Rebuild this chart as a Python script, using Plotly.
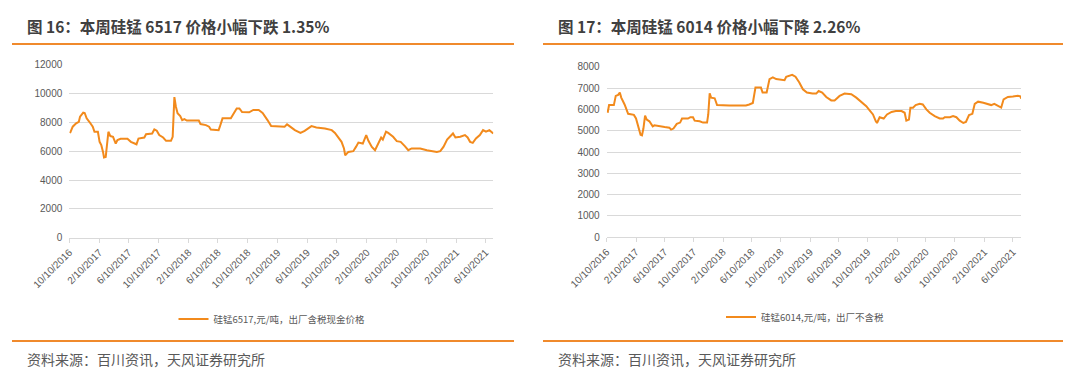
import plotly.graph_objects as go

# ---------------- data ----------------
dates_6517 = [
    "2016-10-13", "2016-10-24", "2016-11-07", "2016-11-18", "2016-11-23", "2016-12-06", "2016-12-12",
    "2016-12-20", "2016-12-31", "2017-01-14", "2017-01-21", "2017-02-04", "2017-02-11", "2017-02-18",
    "2017-02-25", "2017-03-01", "2017-03-08", "2017-03-13", "2017-03-19", "2017-03-27", "2017-04-07",
    "2017-04-18", "2017-04-25", "2017-05-08", "2017-06-05", "2017-06-19", "2017-07-02", "2017-07-12",
    "2017-07-20", "2017-08-13", "2017-08-20", "2017-09-14", "2017-09-23", "2017-10-03", "2017-10-13",
    "2017-10-29", "2017-11-10", "2017-11-30", "2017-12-07", "2017-12-10", "2017-12-14", "2017-12-20",
    "2017-12-27", "2018-01-07", "2018-01-15", "2018-01-24", "2018-02-03", "2018-03-24", "2018-03-31",
    "2018-04-22", "2018-05-05", "2018-05-12", "2018-06-13", "2018-06-18", "2018-06-29", "2018-08-02",
    "2018-08-09", "2018-08-26", "2018-09-06", "2018-09-17", "2018-10-16", "2018-11-02", "2018-11-24",
    "2018-12-10", "2018-12-30", "2019-01-14", "2019-03-10", "2019-03-20", "2019-03-30", "2019-04-21",
    "2019-05-14", "2019-05-31", "2019-06-28", "2019-07-18", "2019-08-22", "2019-09-19", "2019-10-02",
    "2019-10-15", "2019-10-29", "2019-11-08", "2019-11-13", "2019-11-26", "2019-12-16", "2019-12-27",
    "2020-01-06", "2020-01-24", "2020-02-07", "2020-02-16", "2020-03-01", "2020-03-14", "2020-03-27",
    "2020-04-08", "2020-04-15", "2020-04-28", "2020-05-07", "2020-05-27", "2020-06-11", "2020-06-27",
    "2020-07-14", "2020-07-28", "2020-08-11", "2020-09-15", "2020-10-12", "2020-11-02", "2020-11-22",
    "2020-12-06", "2020-12-19", "2021-01-03", "2021-01-16", "2021-01-27", "2021-02-06", "2021-02-26",
    "2021-03-17", "2021-03-28", "2021-04-07", "2021-04-18", "2021-05-01", "2021-05-17", "2021-05-30",
    "2021-06-11", "2021-06-25", "2021-07-04", "2021-07-11",
]
price_6517 = [
    7250, 7700, 7930, 8040, 8400, 8670, 8650,
    8280, 8040, 7700, 7350, 7350, 6650, 6420,
    5950, 5560, 5600, 6300, 7350, 7050, 7000,
    6530, 6770, 6860, 6860, 6650, 6530, 6480,
    6880, 6950, 7180, 7230, 7510, 7420, 7120,
    6950, 6720, 6720, 7000, 7930, 9750, 9100,
    8630, 8440, 8160, 8230, 8130, 8130, 7880,
    7810, 7700, 7510, 7460, 7700, 8280, 8280,
    8510, 8970, 8970, 8720, 8700, 8860, 8860,
    8650, 8160, 7740, 7700, 7860, 7740, 7460,
    7270, 7410, 7740, 7650, 7580, 7460, 7270,
    6950, 6650, 6190, 5720, 5950, 6000, 6300,
    6600, 6530, 7120, 6720, 6300, 6070, 6530,
    6950, 6810, 7350, 7270, 7000, 6700, 6650,
    6350, 6070, 6190, 6190, 6070, 6000, 5950,
    6000, 6300, 6810, 7050, 7230, 6950, 7000,
    7120, 6950, 6650, 6580, 6880, 7120, 7460,
    7350, 7460, 7350, 7230,
]

dates_6014 = [
    "2016-10-14", "2016-10-20", "2016-11-09", "2016-11-17", "2016-11-27", "2016-12-04", "2016-12-10",
    "2016-12-24", "2017-01-08", "2017-02-01", "2017-02-10", "2017-02-19", "2017-03-01", "2017-03-07",
    "2017-03-13", "2017-03-20", "2017-03-27", "2017-04-07", "2017-04-21", "2017-04-28", "2017-05-19",
    "2017-06-10", "2017-06-30", "2017-07-07", "2017-07-17", "2017-07-31", "2017-08-14", "2017-08-22",
    "2017-09-16", "2017-09-26", "2017-10-07", "2017-10-14", "2017-11-04", "2017-11-18", "2017-12-05",
    "2017-12-10", "2017-12-16", "2017-12-22", "2018-01-06", "2018-01-16", "2018-03-08", "2018-05-17",
    "2018-05-31", "2018-06-15", "2018-06-26", "2018-07-19", "2018-07-26", "2018-08-12", "2018-08-24",
    "2018-09-07", "2018-09-21", "2018-10-26", "2018-11-02", "2018-11-27", "2018-12-11", "2018-12-27",
    "2019-01-11", "2019-01-28", "2019-02-20", "2019-03-08", "2019-03-18", "2019-04-02", "2019-04-19",
    "2019-05-10", "2019-05-24", "2019-06-14", "2019-07-05", "2019-08-02", "2019-08-23", "2019-09-14",
    "2019-10-04", "2019-10-18", "2019-11-01", "2019-11-13", "2019-11-18", "2019-11-29", "2019-12-16",
    "2019-12-30", "2020-01-18", "2020-02-05", "2020-02-29", "2020-03-13", "2020-03-20", "2020-03-31",
    "2020-04-06", "2020-04-17", "2020-04-28", "2020-05-15", "2020-05-28", "2020-06-12", "2020-06-26",
    "2020-07-17", "2020-08-07", "2020-08-21", "2020-08-28", "2020-09-19", "2020-10-02", "2020-10-16",
    "2020-10-30", "2020-11-14", "2020-11-25", "2020-12-08", "2020-12-22", "2021-01-01", "2021-01-15",
    "2021-02-06", "2021-02-27", "2021-03-11", "2021-03-24", "2021-04-08", "2021-04-22", "2021-05-02",
    "2021-05-20", "2021-06-10", "2021-07-01", "2021-07-11", "2021-07-15",
]
price_6014 = [
    5840, 6200, 6200, 6630, 6680, 6790, 6550,
    6230, 5790, 5740, 5570, 5160, 4810, 4780,
    5100, 5710, 5520, 5440, 5200, 5250, 5200,
    5170, 5140, 5050, 5100, 5320, 5380, 5570,
    5570, 5630, 5630, 5470, 5440, 5380, 5380,
    5760, 6750, 6550, 6520, 6200, 6180, 6180,
    6230, 6300, 7020, 7020, 6790, 6790, 7420,
    7500, 7420, 7370, 7530, 7620, 7530, 7260,
    6940, 6790, 6740, 6740, 6860, 6790, 6580,
    6420, 6420, 6630, 6740, 6710, 6550, 6360,
    6150, 5950, 5760, 5440, 5360, 5630, 5570,
    5760, 5880, 5920, 5920, 5840, 5470, 5520,
    6080, 6080, 6200, 6260, 6230, 6000, 5840,
    5680, 5570, 5570, 5630, 5630, 5680, 5630,
    5470, 5360, 5410, 5730, 5790, 6260, 6360,
    6310, 6260, 6200, 6260, 6150, 6080, 6470,
    6580, 6600, 6640, 6610, 6500,
]

tick_dates = [
    "2016-10-10", "2017-02-10", "2017-06-10", "2017-10-10", "2018-02-10",
    "2018-06-10", "2018-10-10", "2019-02-10", "2019-06-10", "2019-10-10",
    "2020-02-10", "2020-06-10", "2020-10-10", "2021-02-10", "2021-06-10",
]
tick_labels = [
    "10/10/2016", "2/10/2017", "6/10/2017", "10/10/2017", "2/10/2018",
    "6/10/2018", "10/10/2018", "2/10/2019", "6/10/2019", "10/10/2019",
    "2/10/2020", "6/10/2020", "10/10/2020", "2/10/2021", "6/10/2021",
]

name_6517 = "硅锰6517,元/吨，出厂含税现金价格"
name_6014 = "硅锰6014,元/吨，出厂不含税"
title_left = "图 16：本周硅锰 6517 价格小幅下跌 1.35%"
title_right = "图 17：本周硅锰 6014 价格小幅下降 2.26%"
source_text = "资料来源：百川资讯，天风证券研究所"

# ---------------- styles ----------------
W, H = 1080, 371
LINE = "#F28A1C"
RULE = "#F08A2C"
GRID = "#D9D9D9"
TXT = "#595959"
NUMFONT = "Liberation Sans, Arial, sans-serif"
CJK = "Noto Sans CJK SC, sans-serif"


def px(x):
    return x / W


def py(y):
    return 1 - y / H


fig = go.Figure()
fig.add_trace(go.Scatter(x=dates_6517, y=price_6517, mode="lines", name=name_6517,
                         line=dict(color=LINE, width=2), xaxis="x", yaxis="y", legend="legend"))
fig.add_trace(go.Scatter(x=dates_6014, y=price_6014, mode="lines", name=name_6014,
                         line=dict(color=LINE, width=2), xaxis="x2", yaxis="y2", legend="legend2"))

xcommon = dict(type="date", tickvals=tick_dates, ticktext=tick_labels, tickangle=-45,
               showgrid=False, showline=True, linecolor=GRID, linewidth=1,
               ticks="outside", ticklen=4, tickcolor=GRID, automargin=False,
               tickfont=dict(size=10, color=TXT, family=NUMFONT), zeroline=False)
ycommon = dict(showgrid=True, gridcolor=GRID, gridwidth=1, zeroline=False, showline=False,
               ticks="", tickformat="d", automargin=False,
               tickfont=dict(size=10, color=TXT, family=NUMFONT), ticklabelstandoff=6)

fig.update_layout(
    template="none",
    width=W, height=H, margin=dict(l=0, r=0, t=0, b=0, pad=0, autoexpand=False),
    paper_bgcolor="white", plot_bgcolor="white",
    xaxis=dict(domain=[px(69.3), px(493.3)], range=["2016-10-10", "2021-07-11"], anchor="y", **xcommon),
    yaxis=dict(domain=[py(237.7), py(64.7)], range=[0, 12000], dtick=2000, anchor="x", **ycommon),
    xaxis2=dict(domain=[px(606.7), px(1021)], range=["2016-10-10", "2021-07-14"], anchor="y2", **xcommon),
    yaxis2=dict(domain=[py(237.3), py(66.7)], range=[0, 8000], dtick=1000, anchor="x2", **ycommon),
    legend=dict(x=px(272), y=py(319), xanchor="center", yanchor="middle", orientation="h",
                font=dict(size=9.5, color=TXT, family=CJK), bgcolor="rgba(0,0,0,0)", itemwidth=30),
    legend2=dict(x=px(805), y=py(317), xanchor="center", yanchor="middle", orientation="h",
                 font=dict(size=9.5, color=TXT, family=CJK), bgcolor="rgba(0,0,0,0)", itemwidth=30),
    showlegend=True,
)

# orange rules
for (x0, x1) in [(12, 514), (543, 1063)]:
    fig.add_shape(type="line", xref="paper", yref="paper", x0=px(x0), x1=px(x1), y0=py(44), y1=py(44),
                  line=dict(color=RULE, width=2))
    fig.add_shape(type="line", xref="paper", yref="paper", x0=px(x0), x1=px(x1), y0=py(341), y1=py(341),
                  line=dict(color=RULE, width=2))

# titles and sources
for (xt, t) in [(24.7, title_left), (555.5, title_right)]:
    fig.add_annotation(x=px(xt), y=py(26.5), xref="paper", yref="paper", text="<b>" + t + "</b>",
                       showarrow=False, xanchor="left", yanchor="middle",
                       font=dict(size=15.5, color="#404040", family=CJK))
    fig.add_annotation(x=px(xt), y=py(358.5), xref="paper", yref="paper", text=source_text,
                       showarrow=False, xanchor="left", yanchor="middle",
                       font=dict(size=14, color=TXT, family=CJK))

fig.write_html("out.html", config={"displayModeBar": False},
               post_script="document.body.style.margin='0';document.body.style.overflow='hidden';")
